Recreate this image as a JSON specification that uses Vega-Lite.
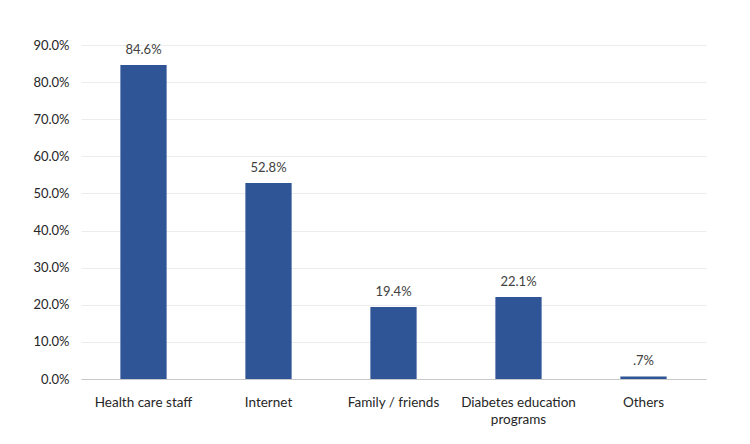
{
  "$schema": "https://vega.github.io/schema/vega-lite/v6.json",
  "autosize": "none",
  "width": 625,
  "height": 334,
  "padding": {"left": 81, "top": 45, "right": 44, "bottom": 65},
  "background": "white",
  "config": {
    "view": {"stroke": null},
    "font": "Lato"
  },
  "data": {
    "values": [
      {"source": "Health care staff", "share": 0.846},
      {"source": "Internet", "share": 0.528},
      {"source": "Family / friends", "share": 0.194},
      {"source": "Diabetes education programs", "share": 0.221},
      {"source": "Others", "share": 0.007}
    ]
  },
  "encoding": {
    "x": {
      "field": "source",
      "type": "nominal",
      "sort": null,
      "scale": {"paddingInner": 0.63, "paddingOuter": 0.315},
      "axis": {
        "title": null,
        "labelAngle": 0,
        "labelFontSize": 13.5,
        "labelColor": "#262626",
        "labelPadding": 16,
        "ticks": false,
        "domainColor": "#c8c8c8",
        "labelLineHeight": 17,
        "labelExpr": "datum.label == 'Diabetes education programs' ? ['Diabetes education', 'programs'] : datum.label"
      }
    },
    "y": {
      "field": "share",
      "type": "quantitative",
      "scale": {"domain": [0, 0.9], "nice": false},
      "axis": {
        "title": null,
        "format": ".1%",
        "values": [0, 0.1, 0.2, 0.3, 0.4, 0.5, 0.6, 0.7, 0.8, 0.9],
        "domain": false,
        "ticks": false,
        "labelFontSize": 13,
        "labelColor": "#262626",
        "labelPadding": 12,
        "gridColor": "#ececec"
      }
    }
  },
  "layer": [
    {"mark": {"type": "bar", "color": "#2F5597"}},
    {
      "transform": [
        {"calculate": "replace(format(datum.share, '.1%'), /^0\\./, '.')", "as": "shareLabel"}
      ],
      "mark": {"type": "text", "baseline": "bottom", "dy": -8, "fontSize": 13, "color": "#404040"},
      "encoding": {"text": {"field": "shareLabel"}}
    }
  ]
}
